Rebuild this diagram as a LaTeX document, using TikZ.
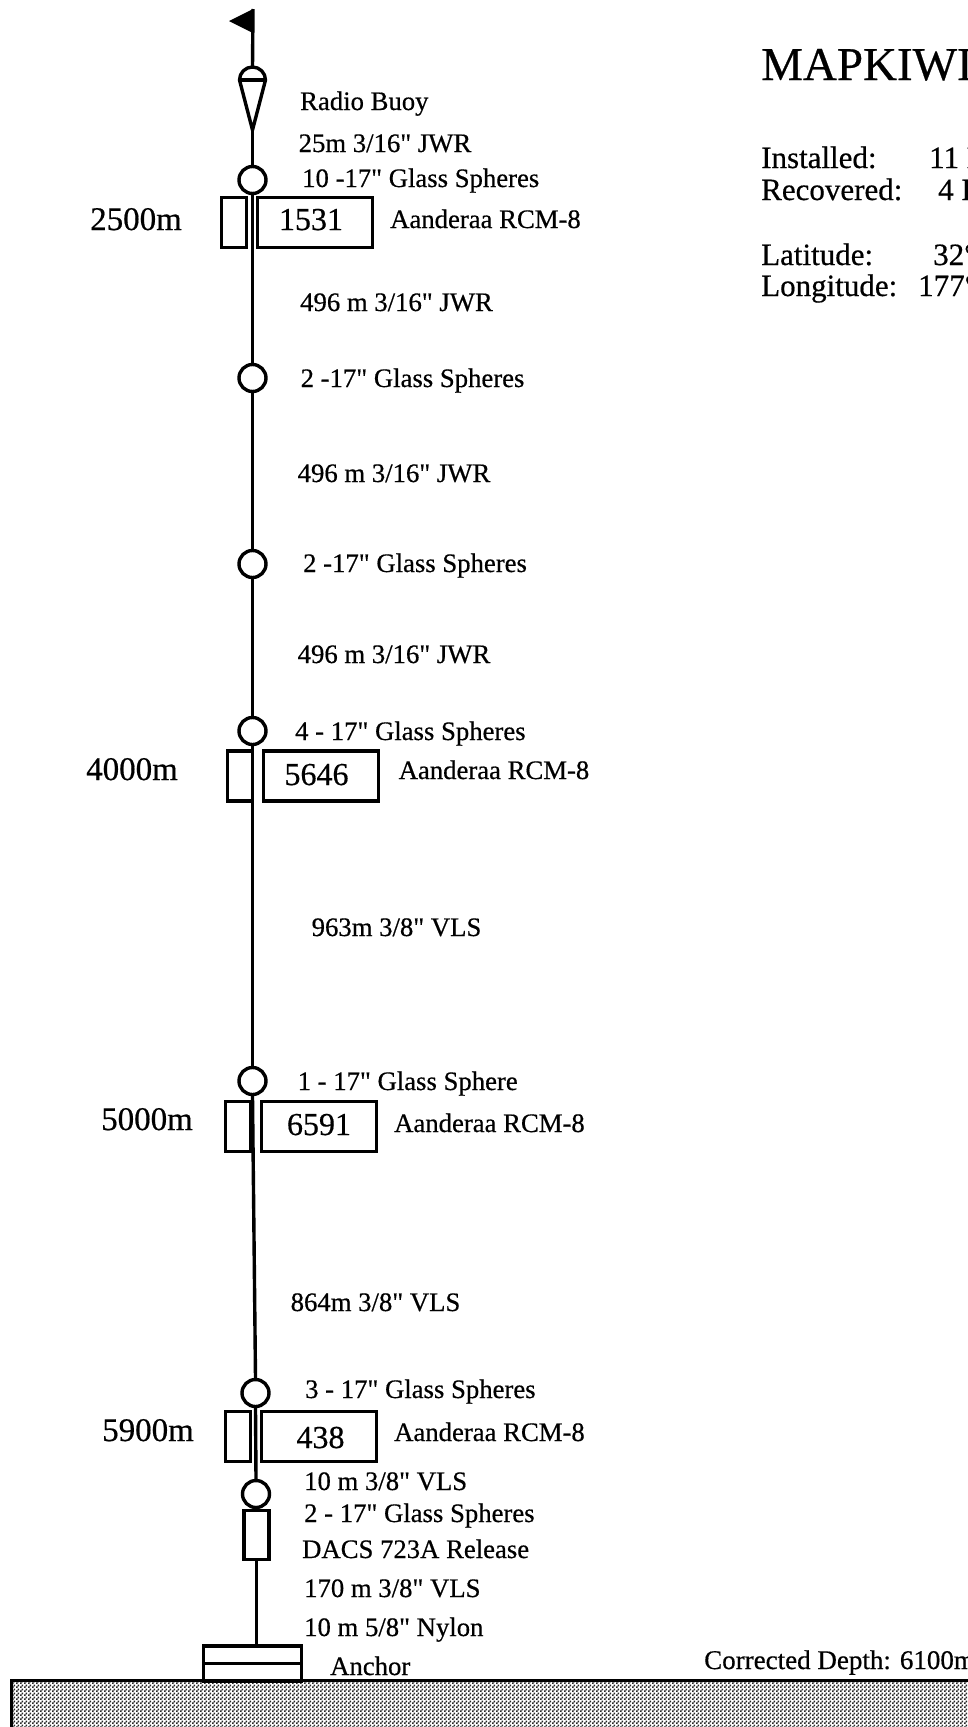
\documentclass[tikz,border=0pt]{standalone}
\usepackage{fontspec}
\newfontfamily\reffont[FakeBold=0.5]{Liberation Serif}
\newcommand\fs[1]{\fontsize{#1}{#1}\reffont}
\usetikzlibrary{patterns}
\pgfdeclarepatternformonly{ditherA}{\pgfpointorigin}{\pgfqpoint{4pt}{4pt}}{\pgfqpoint{4pt}{4pt}}{%
  \pgfpathrectangle{\pgfqpoint{0pt}{0pt}}{\pgfqpoint{2pt}{2pt}}%
  \pgfpathrectangle{\pgfqpoint{2pt}{2pt}}{\pgfqpoint{2pt}{2pt}}%
  \pgfusepath{fill}}
\tikzset{
  x=1pt,y=-1pt,
  lab/.style={anchor=base west,inner sep=0pt,font=\fs{26.7}},
  dep/.style={anchor=base west,inner sep=0pt,font=\fs{33}},
  hdr/.style={anchor=base west,inner sep=0pt,font=\fs{31}},
  num/.style={anchor=base,inner sep=0pt,font=\fs{32}},
  sphere/.style={circle,draw,line width=3.4pt,minimum size=27pt,inner sep=0pt,fill=white},
  rcmbody/.style={rectangle,draw,line width=3.2pt,minimum width=115pt,minimum height=50pt,inner sep=0pt},
  rcmside/.style={rectangle,draw,line width=3.2pt,minimum width=25pt,minimum height=50pt,inner sep=0pt},
  wire/.style={line width=3.4pt},
}
\begin{document}
\begin{tikzpicture}
\useasboundingbox (0,0) rectangle (968,1727);
\begin{scope}
\clip (0,0) rectangle (968,1727);
% ground
\path[pattern=ditherA,pattern color=black!85] (11,1680) rectangle (968,1727);
\draw[line width=3pt] (11,1727) -- (11,1680) -- (968,1680);

% header
\node[anchor=base west,inner sep=0pt,font=\fs{47}] (title) at (761,80) {MAPKIWI};
\node[hdr] (inst) at (761,168) {Installed:};
\node[hdr] (instv) at (929,168) {11 D};
\node[hdr] (rec) at (761,200) {Recovered:};
\node[hdr] (recv) at (938,200) {4 D};
\node[hdr] (lat) at (761,265) {Latitude:};
\node[hdr] (latv) at (933,265) {32°};
\node[hdr] (lon) at (761,296) {Longitude:};
\node[hdr] (lonv) at (918,296) {177°};
\node[lab,font=\fs{27}] (cdepth) at (704,1669) {Corrected Depth: 6100m};
\end{scope}

% flag and buoy
\coordinate (flagtop) at (253,9);
\coordinate (flagtip) at (229,21);
\coordinate (flagbot) at (253,33);
\fill (flagtop) -- (flagtip) -- (flagbot) -- cycle;
\coordinate (buoytop) at (252.5,67);
\coordinate (buoyl) at (239.5,80);
\coordinate (buoyr) at (265.5,80);
\coordinate (buoytip) at (252.5,130);
\draw[wire] (flagtop) -- (buoytop);
\draw[line width=3.4pt,line join=round] (buoyl) arc[start angle=180,end angle=360,radius=13] -- (buoytip) -- cycle;
\draw[wire] (buoyl) -- (buoyr);

% spheres
\node[sphere] (s1) at (252.5,180) {};
\node[sphere] (s2) at (252.5,378) {};
\node[sphere] (s3) at (252.5,564) {};
\node[sphere] (s4) at (252.5,731) {};
\node[sphere] (s5) at (252.5,1081) {};
\node[sphere] (s6) at (255.5,1393) {};
\node[sphere] (s7) at (256,1494) {};

% release and anchor
\node[rectangle,draw,line width=3.2pt,minimum width=25pt,minimum height=49pt,inner sep=0pt] (rel) at (256.5,1535) {};
\node[rectangle,draw,line width=3.4pt,minimum width=98pt,minimum height=35pt,inner sep=0pt] (anch) at (252.5,1663.5) {};
\draw[line width=3.4pt] (anch.west) -- (anch.east);

% wire
\draw[wire] (buoytip) -- (s1.north);
\draw[wire] (s1.south) -- (s2.north);
\draw[wire] (s2.south) -- (s3.north);
\draw[wire] (s3.south) -- (s4.north);
\draw[wire] (s4.south) -- (s5.north);
\draw[wire] (s5.south) -- (s6.north);
\draw[wire] (s6.south) -- (s7.north);
\draw[wire] (s7.south) -- (rel.north);
\draw[wire] (rel.south) -- (anch.north-|rel.south);

% instruments
\node[rcmside] (a1) at (234,222.5) {};
\node[rcmbody] (b1) at (315,222.5) {};
\node[rcmside] (a2) at (240,776) {};
\node[rcmbody] (b2) at (321,776) {};
\node[rcmside] (a3) at (238,1126.5) {};
\node[rcmbody] (b3) at (319,1126.5) {};
\node[rcmside] (a4) at (238,1436.5) {};
\node[rcmbody] (b4) at (319,1436.5) {};

\node[num] (n1) at (311,230) {1531};
\node[num] (n2) at (316.5,785) {5646};
\node[num] (n3) at (319,1135) {6591};
\node[num] (n4) at (320.5,1448) {438};

% depths
\node[dep] (d1) at (90,230) {2500m};
\node[dep] (d2) at (86,780) {4000m};
\node[dep] (d3) at (101,1130) {5000m};
\node[dep] (d4) at (102,1441) {5900m};

% labels
\node[lab] (t1) at (300,110) {Radio Buoy};
\node[lab] (t2) at (298.5,152) {25m 3/16" JWR};
\node[lab] (t3) at (302,187) {10 -17" Glass Spheres};
\node[lab] (t4) at (390,228) {Aanderaa RCM-8};
\node[lab] (t5) at (300,311) {496 m 3/16" JWR};
\node[lab] (t6) at (300.5,387) {2 -17" Glass Spheres};
\node[lab] (t7) at (297.5,482) {496 m 3/16" JWR};
\node[lab] (t8) at (303,572) {2 -17" Glass Spheres};
\node[lab] (t9) at (297.5,663) {496 m 3/16" JWR};
\node[lab] (t10) at (295,740) {4 - 17" Glass Spheres};
\node[lab] (t11) at (398.5,779) {Aanderaa RCM-8};
\node[lab] (t12) at (311.5,936) {963m 3/8" VLS};
\node[lab] (t13) at (297.5,1090) {1 - 17" Glass Sphere};
\node[lab] (t14) at (394,1132) {Aanderaa RCM-8};
\node[lab] (t15) at (290.5,1311) {864m 3/8" VLS};
\node[lab] (t16) at (305,1398) {3 - 17" Glass Spheres};
\node[lab] (t17) at (394,1441) {Aanderaa RCM-8};
\node[lab] (t18) at (304,1490) {10 m 3/8" VLS};
\node[lab] (t19) at (304,1522) {2 - 17" Glass Spheres};
\node[lab] (t20) at (302,1558) {DACS 723A Release};
\node[lab] (t21) at (304,1597) {170 m 3/8" VLS};
\node[lab] (t22) at (304,1636) {10 m 5/8" Nylon};
\node[lab] (t23) at (330,1675) {Anchor};
\end{tikzpicture}
\end{document}
